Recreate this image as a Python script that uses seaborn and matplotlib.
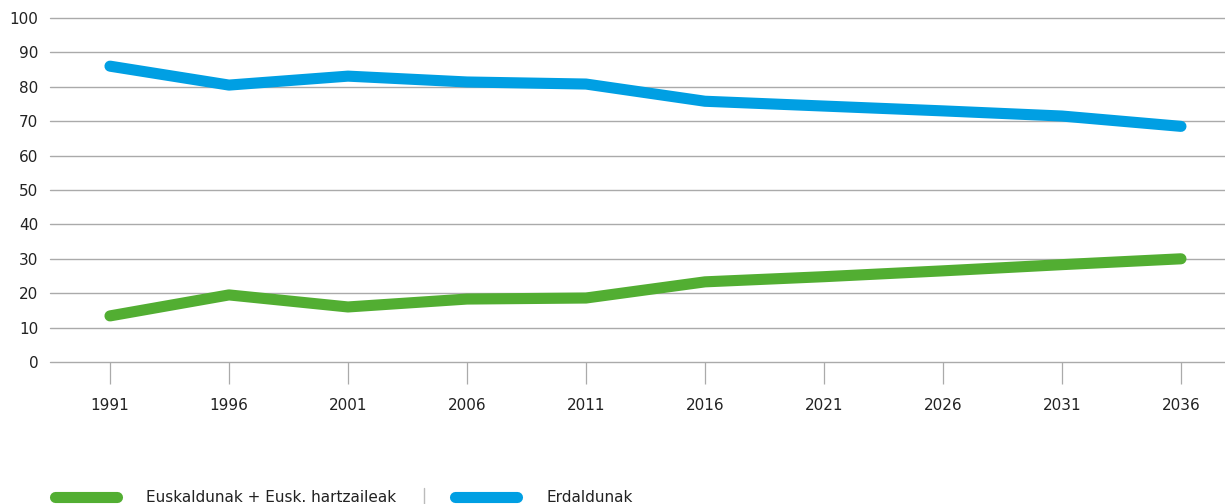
import matplotlib
matplotlib.use("Agg")
import matplotlib.pyplot as plt
from matplotlib.lines import Line2D
import seaborn as sns
import pandas as pd

years = [1991, 1996, 2001, 2006, 2011, 2016, 2021, 2026, 2031, 2036]
euskaldunak = [13.4, 19.5, 16.0, 18.3, 18.6, 23.3, 24.8, 26.5, 28.3, 30.0]
erdaldunak = [86.0, 80.5, 83.1, 81.4, 80.8, 75.8, 74.4, 73.0, 71.5, 68.5]
series_names = ["Euskaldunak + Eusk. hartzaileak", "Erdaldunak"]
colors = ["#52AE32", "#009FE3"]
y_ticks = list(range(0, 101, 10))

df = pd.DataFrame({
    "urtea": years * 2,
    "balioa": euskaldunak + erdaldunak,
    "taldea": [series_names[0]] * len(years) + [series_names[1]] * len(years),
})

sns.set_theme(style="white")
plt.rcParams["font.family"] = ["DejaVu Sans"]

W, H = 1225, 504
fig = plt.figure(figsize=(W / 100, H / 100), dpi=100)
ax = fig.add_axes([50 / W, (H - 362) / H, (W - 50) / W, 344 / H])

# horizontal reference lines, including the one at zero
for t in y_ticks:
    ax.axhline(t, color="#aaaaaa", linewidth=1, clip_on=False, zorder=1)

sns.lineplot(data=df, x="urtea", y="balioa", hue="taldea",
             palette=dict(zip(series_names, colors)), linewidth=8,
             legend=False, ax=ax, zorder=3)
for ln in ax.get_lines():
    ln.set_solid_capstyle("round")
    ln.set_solid_joinstyle("round")

ax.set_xlim(1988.48, 2037.85)
ax.set_ylim(0, 100)
ax.set_yticks(y_ticks)
ax.set_xticks(years)
ax.set_xticklabels([str(y) for y in years])
ax.set_xlabel("")
ax.set_ylabel("")
for s in ax.spines.values():
    s.set_visible(False)
ax.grid(False)
ax.tick_params(axis="y", length=0, pad=8.5, labelsize=11, labelcolor="#222222")
ax.tick_params(axis="x", length=16, width=0.9, color="#aaaaaa", pad=10,
               labelsize=11, labelcolor="#222222", bottom=True)

# legend row along the bottom edge
ly = (H - 497) / H
for x0, x1, col, tx, name in [(55, 117, colors[0], 146, series_names[0]),
                               (455, 517, colors[1], 547, series_names[1])]:
    fig.add_artist(Line2D([x0 / W, x1 / W], [ly, ly], color=col, linewidth=8,
                          solid_capstyle="round", transform=fig.transFigure))
    fig.text(tx / W, ly, name, fontsize=11, color="#222222",
             va="center", ha="left")
fig.add_artist(Line2D([424 / W, 424 / W], [(H - 488) / H, 0], color="#bbbbbb",
                      linewidth=1, transform=fig.transFigure))

fig.savefig("out.png", dpi=100)
